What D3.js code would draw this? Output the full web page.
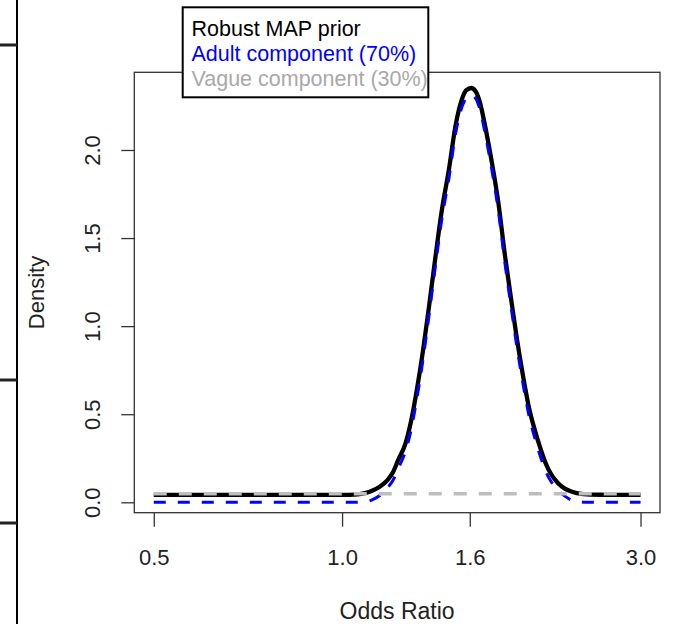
<!DOCTYPE html>
<html lang="en">
<head>
<meta charset="utf-8">
<title>Robust MAP prior</title>
<script src="https://d3js.org/d3.v7.min.js"></script>
<style>
  body { margin: 0; background: #fff; }
  text { font-family: "Liberation Sans", Arial, sans-serif; }
</style>
</head>
<body>
<script>
// Odds ratio grid
var oddsRatio = [0.5, 0.593, 0.713, 0.857, 1.0, 1.06, 1.088, 1.119, 1.15, 1.181,
  1.206, 1.229, 1.263, 1.289, 1.317, 1.347, 1.377, 1.411, 1.444, 1.482,
  1.518, 1.555, 1.58, 1.609, 1.637, 1.661, 1.693, 1.735, 1.777, 1.821,
  1.862, 1.903, 1.946, 1.989, 2.033, 2.071, 2.117, 2.157, 2.213, 2.271,
  2.304, 2.364, 2.431, 2.583, 2.78, 3.0];

// Robust MAP prior (black)
var robustDensity = [0.042, 0.042, 0.042, 0.042, 0.042, 0.045, 0.052, 0.067, 0.09, 0.124,
  0.17, 0.239, 0.334, 0.46, 0.64, 0.86, 1.11, 1.40, 1.66, 1.89,
  2.136, 2.29, 2.34, 2.352, 2.33, 2.27, 2.136, 1.932, 1.705, 1.404,
  1.16, 0.93, 0.72, 0.54, 0.41, 0.316, 0.22, 0.162, 0.11, 0.078,
  0.067, 0.054, 0.047, 0.043, 0.042, 0.042];

// Adult component (blue)
var adultDensity = [0, 0, 0, 0, 0, 0, 0.002, 0.015, 0.04, 0.08,
  0.125, 0.19, 0.29, 0.41, 0.59, 0.81, 1.06, 1.35, 1.61, 1.84,
  2.09, 2.245, 2.295, 2.31, 2.29, 2.23, 2.095, 1.89, 1.66, 1.36,
  1.115, 0.885, 0.675, 0.495, 0.365, 0.27, 0.175, 0.12, 0.07, 0.035,
  0.02, 0.006, 0.001, 0, 0, 0];

// Vague component (grey)
var vagueOR = [0.5, 1.0, 1.6, 3.0];
var vagueDensity = [0.048, 0.048, 0.048, 0.048];

var xTicks = [0.5, 1.0, 1.6, 3.0];
var yTicks = [0, 0.5, 1.0, 1.5, 2.0];

var legendLabels = ["Robust MAP prior", "Adult component (70%)", "Vague component (30%)"];
var legendColors = ["#000000", "#0000ff", "#a9a9a9"];

var width = 674, height = 624;
var margin = { left: 134.3, right: 14, top: 72.3, bottom: 111.3 };

var svg = d3.select("body").append("svg")
  .attr("width", width)
  .attr("height", height);

// bits of a neighbouring panel on the left edge
svg.append("line").attr("x1", 17).attr("x2", 17).attr("y1", 0).attr("y2", height)
  .attr("stroke", "#000").attr("stroke-width", 2);
[45, 380, 523].forEach(function(y) {
  svg.append("line").attr("x1", 0).attr("x2", 17).attr("y1", y).attr("y2", y)
    .attr("stroke", "#222").attr("stroke-width", 3);
});

// log x, with R's 4% padding
var lo = Math.log(0.5), hi = Math.log(3.0), pad = (hi - lo) * 0.04;
var x = d3.scaleLog()
  .domain([Math.exp(lo - pad), Math.exp(hi + pad)])
  .range([margin.left, width - margin.right]);

var y = d3.scaleLinear()
  .domain([-0.059, 2.441])
  .range([height - margin.bottom, margin.top]);

var plot = svg.append("g");

function lineFor(xs, ys) {
  return d3.line()
    .x(function(d, i) { return x(xs[i]); })
    .y(function(d) { return y(d); })
    .curve(d3.curveMonotoneX)(ys);
}

plot.append("path")
  .attr("d", lineFor(oddsRatio, robustDensity))
  .attr("fill", "none").attr("stroke", "#000").attr("stroke-width", 4.3)
  .attr("stroke-linejoin", "round");

plot.append("path")
  .attr("d", lineFor(oddsRatio, adultDensity))
  .attr("fill", "none").attr("stroke", "#0000ff").attr("stroke-width", 3)
  .attr("stroke-dasharray", "12,12");

plot.append("path")
  .attr("d", lineFor(vagueOR, vagueDensity))
  .attr("fill", "none").attr("stroke", "#bebebe").attr("stroke-width", 3.5)
  .attr("stroke-dasharray", "13,12");

// box
svg.append("rect")
  .attr("x", margin.left).attr("y", margin.top)
  .attr("width", width - margin.right - margin.left)
  .attr("height", height - margin.bottom - margin.top)
  .attr("fill", "none").attr("stroke", "#333").attr("stroke-width", 1.3);

// x axis
var xAxis = d3.axisBottom(x)
  .tickValues(xTicks)
  .tickSize(14)
  .tickPadding(23)
  .tickFormat(d3.format(".1f"));
var gx = svg.append("g")
  .attr("transform", "translate(0," + (height - margin.bottom) + ")")
  .call(xAxis);
gx.select(".domain").remove();
gx.selectAll(".tick line").attr("stroke", "#333").attr("stroke-width", 1.3);
gx.selectAll(".tick text").attr("font-size", 22).attr("fill", "#222")
  .attr("font-family", "Liberation Sans, Arial, sans-serif");

// y axis, labels turned like R's las = 0
var yAxis = d3.axisLeft(y)
  .tickValues(yTicks)
  .tickSize(13)
  .tickFormat(d3.format(".1f"));
var gy = svg.append("g")
  .attr("transform", "translate(" + margin.left + ",0)")
  .call(yAxis);
gy.select(".domain").remove();
gy.selectAll(".tick line").attr("stroke", "#333").attr("stroke-width", 1.3);
gy.selectAll(".tick text")
  .attr("font-size", 22).attr("fill", "#222")
  .attr("font-family", "Liberation Sans, Arial, sans-serif")
  .attr("x", null).attr("dy", null)
  .attr("text-anchor", "middle")
  .attr("transform", "translate(-34,0) rotate(-90)");

// axis titles
svg.append("text")
  .attr("x", x(Math.sqrt(0.5 * 3.0)))
  .attr("y", 619)
  .attr("text-anchor", "middle")
  .attr("font-size", 23).attr("fill", "#222")
  .text("Odds Ratio");

svg.append("text")
  .attr("transform", "translate(44," + y(1.191) + ") rotate(-90)")
  .attr("text-anchor", "middle")
  .attr("font-size", 22).attr("fill", "#222")
  .text("Density");

// legend
var legend = svg.append("g");
legend.append("rect")
  .attr("x", 182.7).attr("y", 7.3)
  .attr("width", 245.6).attr("height", 90)
  .attr("fill", "#fff").attr("stroke", "#000").attr("stroke-width", 2);
legend.selectAll("text.item")
  .data(legendLabels)
  .enter().append("text")
  .attr("class", "item")
  .attr("x", 191.5)
  .attr("y", function(d, i) { return 35.7 + i * 25.2; })
  .attr("font-size", 21.5)
  .attr("fill", function(d, i) { return legendColors[i]; })
  .text(function(d) { return d; });
</script>
</body>
</html>
